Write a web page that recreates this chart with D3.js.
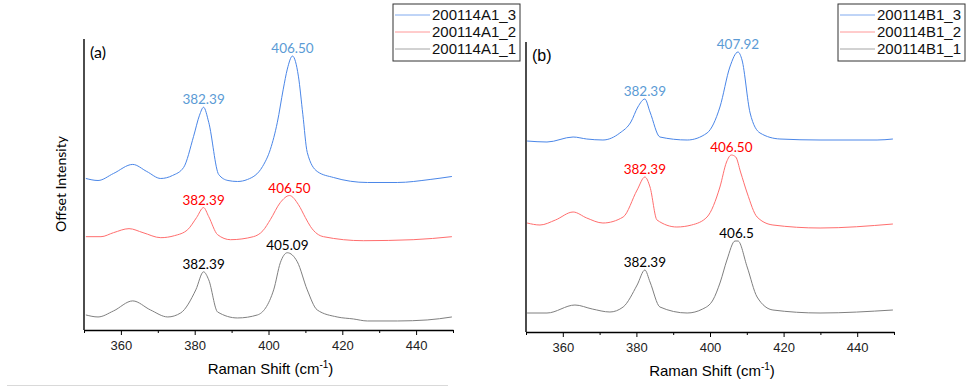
<!DOCTYPE html>
<html>
<head>
<meta charset="utf-8">
<script src="https://cdn.jsdelivr.net/npm/d3@7"></script>
<style>
  body { margin: 0; background: #fff; }
  svg { display: block; }
  .tick text { font-family: "Liberation Sans", Arial, sans-serif; font-size: 13px; fill: #222; }
  .peak { font-family: Lato, "Noto Sans", sans-serif; font-size: 13.5px; text-anchor: middle; }
  .legend text { font-family: "Liberation Sans", Arial, sans-serif; font-size: 15px; fill: #111; }
</style>
</head>
<body>
<svg width="967" height="389"></svg>
<script>
// Raman shift (cm-1) / offset intensity
var shiftA3 = [350.5, 353.8, 358, 363.2, 367, 370.8, 374, 377, 379.7, 381.3, 382.4, 383.8, 386.5, 389, 391.6, 394.3, 398.4, 400.5, 402.4, 404, 405.1, 406.5, 408.1, 409.3, 410.5, 413.2, 417.6, 426.8, 434.9, 443.8, 449.7];
var valA3   = [151, 149, 156, 165, 158, 151, 154, 162, 193, 214, 222, 207, 155, 149, 148, 150, 163, 180, 207, 240, 260, 273, 253, 215, 177, 158, 152, 147, 147, 150, 153];

var shiftA2 = [350.5, 354.6, 358, 362.2, 366, 370.8, 374.5, 378.1, 380.5, 382.4, 383.8, 386.2, 389.7, 395.9, 398.5, 400.5, 403.2, 405.7, 408.1, 410, 411.4, 414.9, 425.7, 439.2, 449.7];
var valA2   = [93, 93, 97, 101, 97, 92, 94, 100, 112, 122, 113, 95, 90, 93, 99, 110, 127, 134, 125, 112, 103, 93, 89, 90, 93];

var shiftA1 = [350.5, 353.8, 358, 363.2, 368, 372.7, 376.2, 380.3, 382.4, 383.8, 386.2, 391.6, 397, 401.4, 403.2, 405.1, 407.8, 410.5, 413.2, 418.6, 423, 426.8, 435, 443, 449.7];
var valA1   = [15, 13, 19, 29, 20, 13, 17, 40, 58, 50, 18, 12, 15, 40, 67, 77, 68, 40, 20, 13, 11, 9, 9, 10, 13];

var shiftB3 = [350.3, 355.7, 362.8, 366.5, 370.9, 375.5, 378.5, 380.4, 382.3, 383.7, 386.4, 393.8, 399.2, 402.7, 405.4, 407.6, 408.7, 410.9, 413.6, 419, 429.9, 445.4, 449.7];
var valB3   = [191, 190, 195, 193, 192, 199, 210, 225, 233, 220, 195, 192, 199, 225, 265, 280, 272, 219, 199, 193, 192, 192, 193];

var shiftB2 = [350.3, 353.8, 358, 362.8, 366.5, 370.9, 376.4, 380.2, 382.3, 383.7, 385.6, 391, 395, 399.2, 402.7, 404.5, 405.8, 407, 408.3, 410.1, 412.8, 417.1, 429.9, 449.7];
var valB2   = [109, 107, 112, 120, 114, 109, 115, 142, 155, 145, 112, 105, 107, 115, 145, 170, 177, 175, 160, 139, 115, 107, 104, 108];

var shiftB1 = [350.3, 355.7, 363.3, 368, 372.8, 376.4, 380.2, 382.3, 383.7, 386.4, 393.8, 398, 400.8, 402.8, 404.6, 406.8, 407.6, 410.1, 412.8, 417.1, 429.9, 449.7];
var valB1   = [19, 19, 27, 23, 20, 25, 47, 62, 50, 25, 19, 23, 32, 50, 72, 91, 91, 65, 35, 22, 19, 22];

var seriesA = ["200114A1_3", "200114A1_2", "200114A1_1"];
var seriesB = ["200114B1_3", "200114B1_2", "200114B1_1"];
var lineColors  = ["#4a86e8", "#ff6e6e", "#7f7f7f"];
var labelColors = ["#5b9bd5", "#ff0000", "#000000"];

// peak labels: [series index, peak shift, text]
var peaksA = [[0, 382.4, "382.39"], [0, 406.5, "406.50"], [1, 382.4, "382.39"], [1, 405.7, "406.50"], [2, 382.4, "382.39"], [2, 405.1, "405.09"]];
var peaksB = [[0, 382.3, "382.39"], [0, 407.6, "407.92"], [1, 382.3, "382.39"], [1, 405.8, "406.50"], [2, 382.3, "382.39"], [2, 407.2, "406.5"]];

var xTicks = [360, 380, 400, 420, 440];
var xMinor = [350, 370, 390, 410, 430, 450];

var svg = d3.select("svg");

function zip(xs, ys) {
  return xs.map(function(d, i) { return {x: d, y: ys[i]}; });
}

function drawPanel(opts) {
  var x = d3.scaleLinear().domain([350, 450]).range([opts.left, opts.right]);
  var y = d3.scaleLinear().domain([0, 290]).range([opts.bottom, opts.top]);
  var g = svg.append("g");

  var line = d3.line()
    .x(function(d) { return x(d.x); })
    .y(function(d) { return y(d.y); })
    .curve(d3.curveMonotoneX);

  opts.data.forEach(function(d, i) {
    g.append("path")
      .datum(d)
      .attr("fill", "none")
      .attr("stroke", lineColors[i])
      .attr("stroke-width", 1)
      .attr("d", line);
  });

  // peak labels
  opts.peaks.forEach(function(p) {
    var pts = opts.data[p[0]];
    var top = d3.max(pts.filter(function(d) { return Math.abs(d.x - p[1]) < 1.5; }), function(d) { return d.y; });
    g.append("text")
      .attr("class", "peak")
      .attr("x", x(p[1]))
      .attr("y", y(top) - 3)
      .attr("fill", labelColors[p[0]])
      .text(p[2]);
  });

  // x axis
  g.append("g")
    .attr("transform", "translate(0," + opts.bottom + ")")
    .call(d3.axisBottom(x).tickValues(xMinor).tickSize(3).tickFormat(""))
    .call(function(a) { a.select(".domain").remove(); })
    .selectAll("line").attr("stroke", "#000");
  var ax = g.append("g")
    .attr("transform", "translate(0," + opts.bottom + ")")
    .call(d3.axisBottom(x).tickValues(xTicks).tickSize(5).tickSizeOuter(0).tickPadding(6));
  ax.select(".domain").attr("stroke", "#000").attr("stroke-width", 1.4);

  // y axis line only
  g.append("line")
    .attr("x1", opts.left).attr("x2", opts.left)
    .attr("y1", opts.top).attr("y2", opts.bottom)
    .attr("stroke", "#000").attr("stroke-width", 1.4);

  // x title
  var t = g.append("text")
    .attr("x", (opts.left + opts.right) / 2 + 2)
    .attr("y", opts.bottom + 44)
    .attr("text-anchor", "middle")
    .style("font-family", "'Liberation Sans', Arial, sans-serif")
    .style("font-size", "15px")
    .text("Raman Shift (cm");
  t.append("tspan").attr("dy", -6).style("font-size", "10px").text("-1");
  t.append("tspan").attr("dy", 6).text(")");

  // panel tag
  g.append("text")
    .attr("x", opts.left + 6)
    .attr("y", opts.top + 19)
    .style("font-family", opts.tagFont)
    .style("font-size", "16px")
    .text(opts.tag);

  // legend
  var lg = g.append("g").attr("class", "legend")
    .attr("transform", "translate(" + opts.legendX + ",4)");
  lg.append("rect")
    .attr("x", 0).attr("y", 0).attr("width", 127).attr("height", 57)
    .attr("fill", "#fff").attr("stroke", "#333").attr("stroke-width", 1);
  opts.names.forEach(function(name, i) {
    var cy = 11 + i * 17;
    lg.append("line")
      .attr("x1", 2).attr("x2", 37).attr("y1", cy).attr("y2", cy)
      .attr("stroke", lineColors[i]).attr("stroke-opacity", 0.7).attr("stroke-width", 1);
    lg.append("text").attr("x", 39).attr("y", cy + 5).text(name);
  });
}

drawPanel({
  left: 84, right: 453, top: 39, bottom: 330,
  data: [zip(shiftA3, valA3), zip(shiftA2, valA2), zip(shiftA1, valA1)],
  peaks: peaksA, names: seriesA, legendX: 393,
  tag: "(a)", tagFont: "Lato, 'Noto Sans', sans-serif"
});

drawPanel({
  left: 526, right: 894, top: 42, bottom: 332,
  data: [zip(shiftB3, valB3), zip(shiftB2, valB2), zip(shiftB1, valB1)],
  peaks: peaksB, names: seriesB, legendX: 838,
  tag: "(b)", tagFont: "'Liberation Sans', Arial, sans-serif"
});

// y title (left panel only)
svg.append("text")
  .attr("transform", "translate(66,184) rotate(-90)")
  .attr("text-anchor", "middle")
  .style("font-family", "Lato, 'Noto Sans', sans-serif")
  .style("font-size", "14px")
  .text("Offset Intensity");

// thin rule under left panel
svg.append("line")
  .attr("x1", 7).attr("x2", 448).attr("y1", 385.5).attr("y2", 385.5)
  .attr("stroke", "#d9d9d9").attr("stroke-width", 1);
</script>
</body>
</html>
